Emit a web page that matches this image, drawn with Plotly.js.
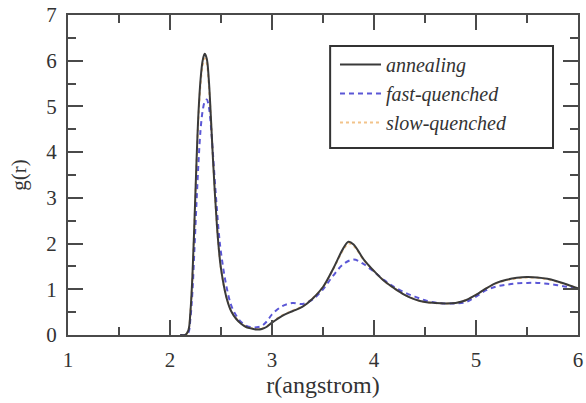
<!DOCTYPE html>
<html>
<head>
<meta charset="utf-8">
<script src="https://cdn.plot.ly/plotly-3.0.1.min.js"></script>
<style>html,body{margin:0;padding:0;background:#fff;}#plot{width:586px;height:403px;}</style>
</head>
<body>
<div id="plot"></div>
<script>
const rAnneal = [2.10,2.15,2.18,2.20,2.22,2.24,2.26,2.28,2.30,2.32,2.34,2.36,2.38,2.40,2.42,2.44,2.46,2.48,2.50,2.55,2.60,2.65,2.70,2.75,2.80,2.85,2.90,2.95,3.00,3.10,3.20,3.30,3.40,3.50,3.60,3.70,3.75,3.80,3.90,4.00,4.10,4.20,4.30,4.40,4.50,4.60,4.70,4.80,4.90,5.00,5.10,5.20,5.30,5.40,5.50,5.60,5.70,5.80,5.90,6.00];
const gAnneal = [0,0,0.1,0.5,1.3,2.5,3.8,4.9,5.6,6.0,6.15,6.05,5.6,4.8,3.9,3.1,2.4,1.85,1.45,0.85,0.52,0.35,0.24,0.17,0.14,0.12,0.13,0.18,0.27,0.42,0.52,0.62,0.80,1.05,1.45,1.90,2.04,1.98,1.65,1.40,1.18,1.02,0.88,0.78,0.72,0.70,0.69,0.70,0.76,0.88,1.02,1.14,1.21,1.25,1.27,1.26,1.23,1.17,1.10,1.02];

const rFast = [2.10,2.15,2.18,2.20,2.22,2.24,2.26,2.28,2.30,2.32,2.34,2.36,2.38,2.40,2.42,2.44,2.46,2.48,2.50,2.55,2.60,2.65,2.70,2.75,2.80,2.85,2.90,2.95,3.00,3.10,3.20,3.30,3.40,3.50,3.60,3.70,3.80,3.90,4.00,4.10,4.20,4.30,4.40,4.50,4.60,4.70,4.80,4.90,5.00,5.10,5.20,5.30,5.40,5.50,5.60,5.70,5.80,5.90,6.00];
const gFast = [0,0,0.05,0.35,0.95,1.9,2.9,3.8,4.5,4.9,5.1,5.15,5.0,4.6,4.0,3.35,2.75,2.2,1.8,1.1,0.65,0.42,0.28,0.2,0.17,0.17,0.2,0.3,0.45,0.63,0.70,0.68,0.78,1.00,1.30,1.55,1.65,1.55,1.38,1.20,1.05,0.93,0.84,0.76,0.71,0.69,0.69,0.72,0.84,0.98,1.06,1.10,1.13,1.14,1.14,1.12,1.09,1.05,1.00];

const rSlow = [2.10,2.15,2.18,2.20,2.22,2.24,2.26,2.28,2.30,2.32,2.34,2.36,2.38,2.40,2.42,2.44,2.46,2.48,2.50,2.55,2.60,2.65,2.70,2.75,2.80,2.85,2.90,2.95,3.00,3.10,3.20,3.30,3.40,3.50,3.60,3.70,3.75,3.80,3.90,4.00,4.10,4.20,4.30,4.40,4.50,4.60,4.70,4.80,4.90,5.00,5.10,5.20,5.30,5.40,5.50,5.60,5.70,5.80,5.90,6.00];
const gSlow = [0,0,0.1,0.48,1.25,2.45,3.7,4.8,5.5,5.9,6.05,5.95,5.5,4.75,3.9,3.1,2.4,1.85,1.45,0.86,0.53,0.36,0.25,0.18,0.15,0.13,0.14,0.19,0.28,0.43,0.53,0.63,0.81,1.05,1.44,1.87,2.0,1.95,1.64,1.40,1.18,1.02,0.88,0.78,0.72,0.70,0.69,0.70,0.76,0.88,1.02,1.13,1.20,1.24,1.26,1.25,1.22,1.16,1.09,1.02];

const xTicks = [1,2,3,4,5,6];
const yTicks = [0,1,2,3,4,5,6,7];

const traces = [
  {x:rSlow, y:gSlow, name:'slow-quenched', mode:'lines', legendrank:3,
   line:{color:'#f2c38a', width:2, dash:'dot', shape:'spline'}},
  {x:rFast, y:gFast, name:'fast-quenched', mode:'lines', legendrank:2,
   line:{color:'#5b57d6', width:2, dash:'5px,4px', shape:'spline'}},
  {x:rAnneal, y:gAnneal, name:'annealing', mode:'lines', legendrank:1,
   line:{color:'#3a3a3a', width:2, shape:'spline'}}
];

const axisCommon = {
  showgrid:false, zeroline:false, showline:true, linecolor:'#4a4a4a', linewidth:2,
  mirror:'ticks', ticks:'inside', ticklen:15, tickwidth:2, tickcolor:'#4a4a4a',
  ticklabelstandoff:5,
  tickfont:{family:'Liberation Serif, serif', size:21, color:'#333'}
};

const layout = {
  width:586, height:403,
  margin:{l:68, r:8, t:15, b:68},
  paper_bgcolor:'#fff', plot_bgcolor:'#fff',
  showlegend:true,
  xaxis: Object.assign({}, axisCommon, {
    range:[1,6], tickmode:'array', tickvals:xTicks, ticktext:xTicks.map(String),
    minor:{dtick:0.5, ticks:'inside', ticklen:8, tickwidth:2, tickcolor:'#4a4a4a'},
    title:{text:'r(angstrom)', font:{family:'Liberation Serif, serif', size:24, color:'#333'}, standoff:4}
  }),
  yaxis: Object.assign({}, axisCommon, {
    range:[0,7], tickmode:'array', tickvals:yTicks, ticktext:yTicks.map(String),
    minor:{dtick:0.5, ticks:'inside', ticklen:8, tickwidth:2, tickcolor:'#4a4a4a'},
    title:{text:'g(r)', font:{family:'Liberation Serif, serif', size:21, color:'#333'}, standoff:14}
  }),
  legend:{
    x:0.5235, y:0.906, xanchor:'left', yanchor:'top',
    borderwidth:0, bgcolor:'rgba(0,0,0,0)',
    font:{family:'Liberation Serif, serif', size:20, color:'#333', style:'italic'},
    tracegroupgap:0, itemwidth:41
  },
  shapes:[{type:'rect', xref:'paper', yref:'paper', x0:0.514, x1:0.951, y0:0.584, y1:0.903,
    line:{color:'#333', width:2}, fillcolor:'rgba(0,0,0,0)', layer:'below'}]
};

Plotly.newPlot('plot', traces, layout, {displayModeBar:false, staticPlot:true});
</script>
</body>
</html>
